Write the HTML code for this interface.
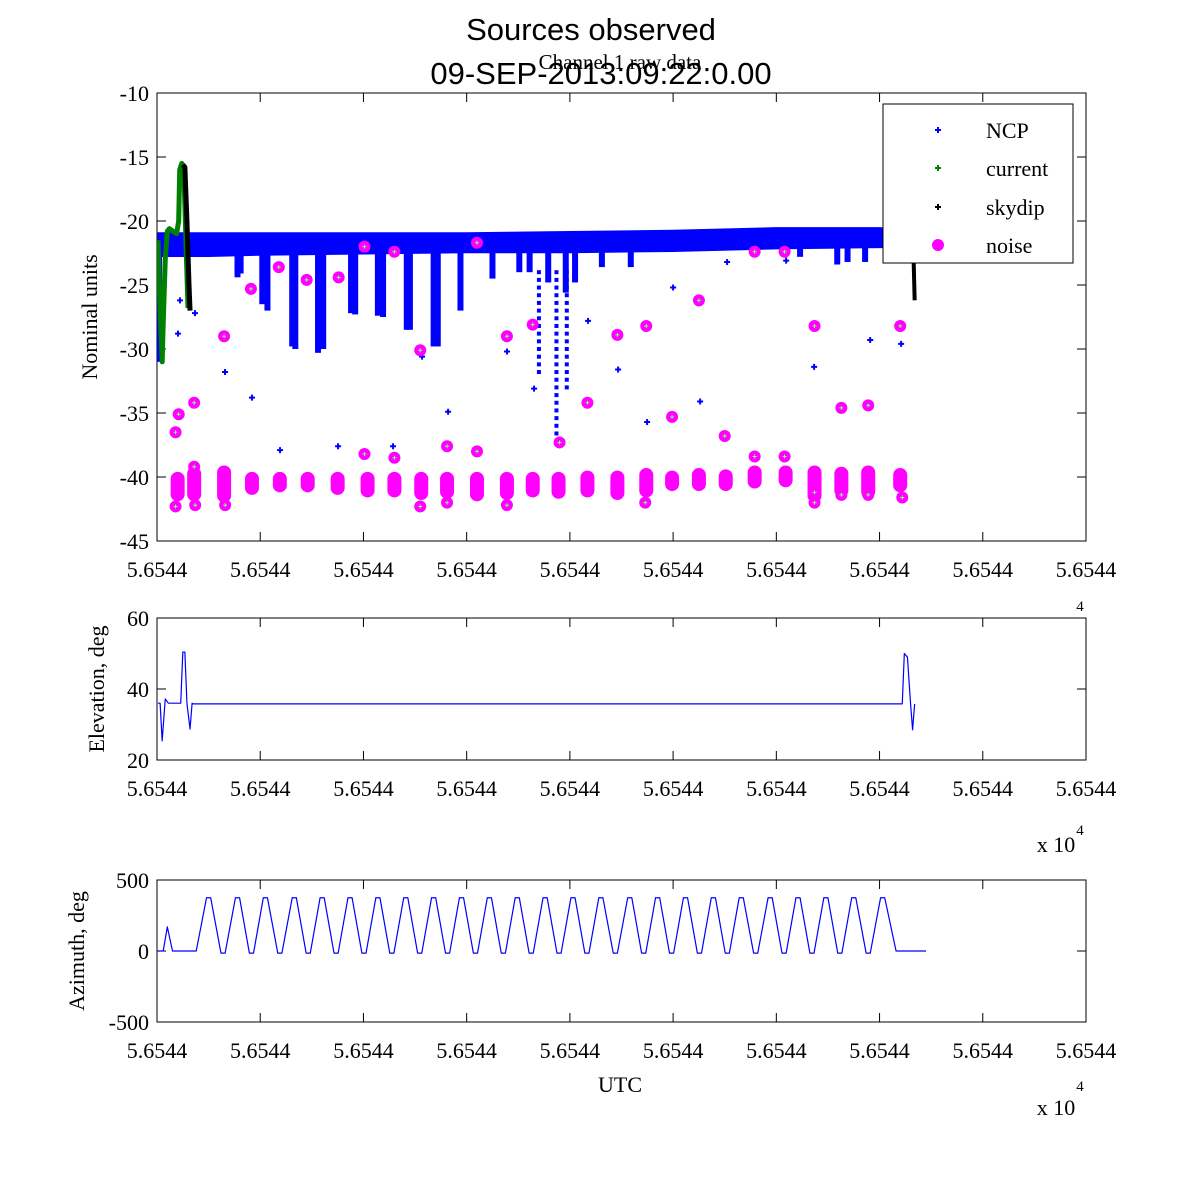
<!DOCTYPE html>
<html><head><meta charset="utf-8">
<style>
html,body{margin:0;padding:0;background:#fff;}
svg{display:block;}
.tk{font-family:"Liberation Serif",serif;font-size:22px;fill:#000;}
.tt{font-family:"Liberation Sans",sans-serif;font-size:31px;fill:#000;}
</style></head>
<body>
<svg id="c" width="1200" height="1200" viewBox="0 0 1200 1200"></svg>
<script>
// ---- data (x in tick units 0..9) ----
const xTickLabels = ["5.6544","5.6544","5.6544","5.6544","5.6544","5.6544","5.6544","5.6544","5.6544","5.6544"];
const yTicksTop = [-10,-15,-20,-25,-30,-35,-40,-45];
const yTicksElev = [20,40,60];
const yTicksAz = [-500,0,500];
// NCP band envelope
const bandX   = [0.02,0.5,1,2,3,4,5,6,7,7.3];
const bandTop = [-21.0,-21.0,-21.0,-21.0,-21.0,-20.9,-20.8,-20.6,-20.6,-20.7];
const bandBot = [-22.7,-22.7,-22.6,-22.5,-22.4,-22.4,-22.3,-22.1,-22.0,-22.0];
// NCP dips (x, lowest value)
const dipX = [0.02,0.78,0.81,1.02,1.07,1.31,1.34,1.56,1.61,1.88,1.92,2.14,2.19,2.42,2.45,2.68,2.72,2.94,3.25,3.51,3.61,3.79,3.96,4.05,4.31,4.59,6.23,6.59,6.69,6.86];
const dipVal = [-31,-24.4,-24.1,-26.5,-27,-29.8,-30,-30.3,-30,-27.2,-27.3,-27.4,-27.5,-28.5,-28.5,-29.8,-29.8,-27,-24.5,-24,-24,-24.8,-25.6,-24.8,-23.6,-23.6,-22.8,-23.4,-23.2,-23.2];
// dotted columns
const dotColX = [3.70,3.87,3.97];
const dotColBot = [-32.3,-37,-33.5];
// isolated NCP points
const ncpPtX = [0.223,0.203,0.368,0.659,0.920,1.192,1.754,2.287,2.820,2.568,3.391,3.653,4.176,4.467,4.748,5.0,5.262,5.523,6.095,6.366,6.909,7.209];
const ncpPtY = [-26.2,-28.8,-27.2,-31.8,-33.8,-37.9,-37.6,-37.6,-34.9,-30.6,-30.2,-33.1,-27.8,-31.6,-35.7,-25.2,-34.1,-23.2,-23.1,-31.4,-29.3,-29.6];
// noise circles
const noiseX = [0.18,0.21,0.36,0.65,0.91,1.18,1.45,1.76,2.01,2.30,2.55,3.10,3.39,3.64,3.90,4.17,4.46,4.74,4.99,5.25,5.50,5.79,6.08,6.37,6.63,6.89,7.20,0.18,0.37,0.66,2.55,2.81,3.39,4.73,6.37,6.63,6.89,7.22,0.36,2.01,2.30,2.81,3.10,5.79,6.08,6.37];
const noiseY = [-36.5,-35.1,-34.2,-29,-25.3,-23.6,-24.6,-24.4,-22,-22.4,-30.1,-21.7,-29,-28.1,-37.3,-34.2,-28.9,-28.2,-35.3,-26.2,-36.8,-22.4,-22.4,-28.2,-34.6,-34.4,-28.2,-42.3,-42.2,-42.2,-42.3,-42,-42.2,-42,-42,-41.4,-41.4,-41.6,-39.2,-38.2,-38.5,-37.6,-38,-38.4,-38.4,-41.2];
// noise clusters
const clX = [0.20,0.36,0.65,0.92,1.19,1.46,1.75,2.04,2.30,2.56,2.81,3.10,3.39,3.64,3.89,4.17,4.46,4.74,4.99,5.25,5.51,5.79,6.09,6.37,6.63,6.89,7.20];
const clTop = [-39.6,-39.2,-39.1,-39.6,-39.6,-39.6,-39.6,-39.6,-39.6,-39.6,-39.6,-39.6,-39.6,-39.6,-39.6,-39.5,-39.5,-39.3,-39.5,-39.3,-39.4,-39.1,-39.1,-39.1,-39.2,-39.1,-39.3];
const clBot = [-41.9,-41.9,-42.0,-41.4,-41.2,-41.2,-41.4,-41.6,-41.6,-41.8,-41.7,-41.9,-41.8,-41.6,-41.7,-41.6,-41.8,-41.6,-41.1,-41.1,-41.1,-40.9,-40.8,-42.0,-41.6,-41.7,-41.2];
// current (green) and skydip (black)
const curX = [0.01,0.03,0.05,0.06,0.08,0.10,0.12,0.19,0.21,0.22,0.24,0.26,0.3];
const curY = [-21.5,-27,-31,-28,-23,-20.8,-20.6,-21,-20,-16,-15.5,-16,-26.8];
const skyX = [0.25,0.27,0.29,0.31,0.32];
const skyY = [-15.6,-15.8,-20,-25,-27];
const endX = [7.33,7.34];
const endY = [-23,-26.2];
// elevation
const elX = [0.01,0.03,0.05,0.08,0.11,0.23,0.25,0.27,0.29,0.32,0.34,0.35,7.17,7.22,7.24,7.27,7.30,7.32,7.34];
const elY = [36,36,25.4,37.2,36,36,50.4,50.4,36,28.7,36,35.8,35.8,35.8,50,49,36,28.5,35.8];
// azimuth
const azPeakX = [0.50,0.78,1.05,1.33,1.60,1.87,2.14,2.41,2.68,2.95,3.22,3.49,3.76,4.03,4.30,4.58,4.85,5.12,5.39,5.66,5.94,6.21,6.48,6.75,7.03];
const azPeakVal = [375,375,375,375,375,375,375,375,375,375,375,375,375,375,375,375,375,375,375,375,375,375,375,375,375];
const azStartX = [0.0,0.06,0.1,0.15,0.38];
const azStartY = [0,0,170,0,0];
const azEndX = [7.16,7.45];

// ---- axes ----
const X0=157,X1=1086;
const sx=u=>X0+u*(X1-X0)/9;
const mk=(y0,y1,v0,v1)=>v=>y0+(v-v0)*(y1-y0)/(v1-v0);
const syT=mk(93,541,-10,-45), syE=mk(760,618,20,60), syA=mk(1022,880,-500,500);
const NS="http://www.w3.org/2000/svg";
const svg=document.getElementById('c');
function el(tag,attrs,parent,text){const e=document.createElementNS(NS,tag);for(const k in attrs)e.setAttribute(k,attrs[k]);if(text!==undefined)e.textContent=text;(parent||svg).appendChild(e);return e;}

function axes(name,yT,yB,sy,ticks){
  const g=el('g',{});
  
  
  el('rect',{x:X0,y:yT,width:X1-X0,height:yB-yT,fill:'#fff',stroke:'#000','stroke-width':1},g);
  for(let i=0;i<10;i++){const x=sx(i);
    el('line',{x1:x,x2:x,y1:yB,y2:yB-9,stroke:'#000'},g);
    el('line',{x1:x,x2:x,y1:yT,y2:yT+9,stroke:'#000'},g);
    const t=el('text',{x:x,y:yB+36,'text-anchor':'middle',class:'tk'},g,xTickLabels[i]);
    
    
  }
  ticks.forEach(v=>{const y=sy(v);
    el('line',{x1:X0,x2:X0+9,y1:y,y2:y,stroke:'#000'},g);
    el('line',{x1:X1,x2:X1-9,y1:y,y2:y,stroke:'#000'},g);
    const t=el('text',{x:X0-8,y:y+8,'text-anchor':'end',class:'tk'},g,String(v));
    
    
  });
  return g;
}
axes('raw-data',93,541,syT,yTicksTop);
axes('elevation',618,760,syE,yTicksElev);
axes('azimuth',880,1022,syA,yTicksAz);

// ---- top plot marks ----
const clip=el('clipPath',{id:'cp'});el('rect',{x:X0,y:93,width:X1-X0,height:448},clip);
const gT=el('g',{'clip-path':'url(#cp)'});


// band
let pts=bandX.map((u,i)=>sx(u)+','+syT(bandTop[i])).concat(bandX.map((u,i)=>sx(u)+','+syT(bandBot[i])).reverse());
const band=el('polygon',{points:pts.join(' '),fill:'#0000ff',stroke:'#0000ff','stroke-width':3},gT);


dipX.forEach((u,i)=>{
  const r=el('rect',{x:sx(u)-3,y:syT(-22),width:6,height:syT(dipVal[i])-syT(-22),fill:'#0000ff'},gT);
  
  
});
dotColX.forEach((u,i)=>{
  for(let v=-24;v>dotColBot[i];v-=0.6){
    const d=el('rect',{x:sx(u)-2,y:syT(v)-2,width:4,height:4,fill:'#0000ff'},gT);
    
    
  }
});
ncpPtX.forEach((u,i)=>{
  const d=el('path',{d:`M${sx(u)-3},${syT(ncpPtY[i])}h6M${sx(u)},${syT(ncpPtY[i])-3}v6`,stroke:'#0000ff','stroke-width':2},gT);
  
  
});
const line=(xs,ys,col,w,name,sy,g)=>{const p=el('polyline',{points:xs.map((u,i)=>sx(u)+','+sy(ys[i])).join(' '),fill:'none',stroke:col,'stroke-width':w,'stroke-linejoin':'round'},g);
  
  };
line(curX,curY,'#008000',5,'current-series',syT,gT);
line(skyX,skyY,'#000',5,'skydip-series',syT,gT);
line(endX,endY,'#000',4,'skydip-end',syT,gT);
clX.forEach((u,i)=>{
  const r=el('rect',{x:sx(u)-7,y:syT(clTop[i]),width:14,height:syT(clBot[i])-syT(clTop[i]),rx:7,fill:'#ff00ff'},gT);
  
  
});
noiseX.forEach((u,i)=>{
  const c=el('circle',{cx:sx(u),cy:syT(noiseY[i]),r:6,fill:'#ff00ff'},gT);
  
  
  el('path',{d:`M${sx(u)-2},${syT(noiseY[i])}h4M${sx(u)},${syT(noiseY[i])-2}v4`,stroke:'#7fff7f','stroke-width':1},gT);
});

// legend
const lg=el('g',{});


el('rect',{x:883,y:104,width:190,height:159,fill:'#fff',stroke:'#000'},lg);
[['NCP','#0000ff',130],['current','#008000',168],['skydip','#000',207],['noise','#ff00ff',245]].forEach(([t,c,y])=>{
  const e=el('g',{},lg);
  
  
  if(t==='noise'){el('circle',{cx:938,cy:y,r:6,fill:c},e);}
  else el('path',{d:`M935,${y}h6M938,${y-3}v6`,stroke:c,'stroke-width':2},e);
  el('text',{x:986,y:y+8,class:'tk'},e,t);
});

// elevation & azimuth
line(elX,elY,'#0000ff',1.2,'elevation-line',syE);
let azX=azStartX.slice(), azY=azStartY.slice();
azPeakX.forEach((p,i)=>{azX.push(p-0.02,p+0.02);azY.push(azPeakVal[i],azPeakVal[i]);
  const nxt=i<azPeakX.length-1?azPeakX[i+1]:null;
  if(nxt){const m=(p+nxt)/2;azX.push(m-0.02,m+0.02);azY.push(-15,-15);}
});
azX.push(azEndX[0],azEndX[1]);azY.push(0,0);
line(azX,azY,'#0000ff',1.2,'azimuth-line',syA);

// titles & labels
const T=(x,y,txt,cls,name,extra)=>{const t=el('text',Object.assign({x:x,y:y,'text-anchor':'middle',class:cls},extra||{}),svg,txt);
  
  return t;};
T(591,40,'Sources observed','tt','title-line-1');
T(601,84,'09-SEP-2013:09:22:0.00','tt','title-line-2');
T(620,69,'Channel 1 raw data','tk','subtitle',{style:'font-size:21px'});
T(0,0,'Nominal units','tk','y-axis-title-raw',{transform:'translate(97,317) rotate(-90)'});
T(0,0,'Elevation, deg','tk','y-axis-title-elevation',{transform:'translate(104,689) rotate(-90)'});
T(0,0,'Azimuth, deg','tk','y-axis-title-azimuth',{transform:'translate(84,951) rotate(-90)'});
T(620,1092,'UTC','tk','x-axis-title');
T(1056,852,'x 10','tk','x-exponent-elevation');
T(1080,835,'4','tk','x-exponent-power',{style:'font-size:15px'});
T(1056,1115,'x 10','tk','x-exponent-azimuth');
T(1080,1091,'4','tk','x-exponent-power',{style:'font-size:15px'});
T(1080,611,'4','tk','x-exponent-power-top',{style:'font-size:15px'});
</script>
</body></html>
